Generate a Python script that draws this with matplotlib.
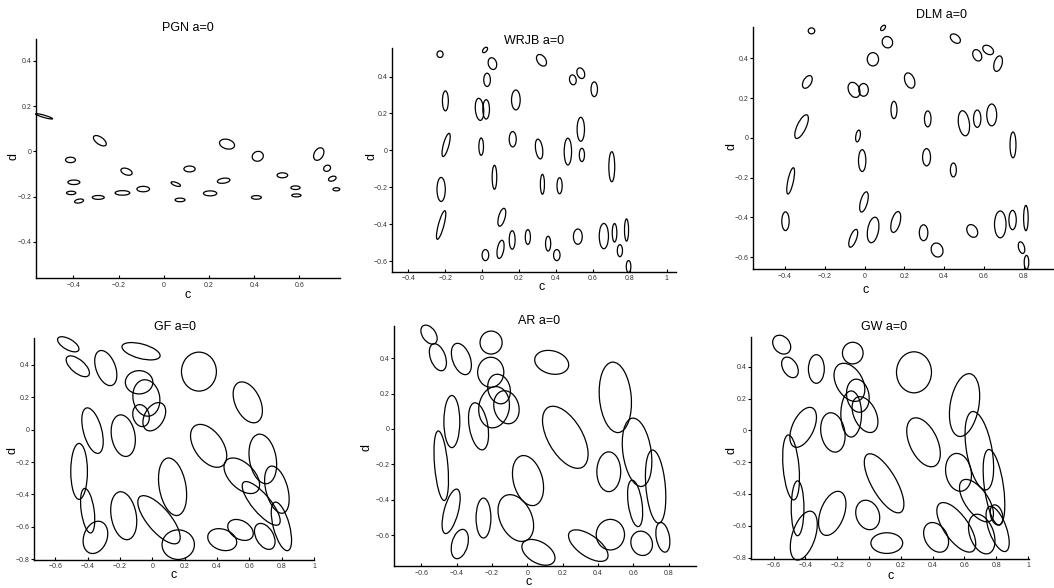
import matplotlib
matplotlib.use("Agg")
import matplotlib.pyplot as plt
from matplotlib.patches import Ellipse
import numpy as np

plt.rcParams['font.family'] = ['Liberation Sans', 'DejaVu Sans']

# ---------------- data: ellipse centres (cx, cy), widths, heights, angles ----------------
pgn_cx = [-0.53, -0.283, -0.413, -0.398, -0.41, -0.375, -0.29, -0.183, -0.165, -0.091, 0.053, 0.072, 0.114,
          0.205, 0.265, 0.28, 0.416, 0.41, 0.525, 0.583, 0.587, 0.686, 0.723, 0.746, 0.764]
pgn_cy = [0.155, 0.047, -0.038, -0.137, -0.184, -0.22, -0.204, -0.184, -0.09, -0.167, -0.145, -0.215, -0.078,
          -0.186, -0.13, 0.032, -0.022, -0.204, -0.106, -0.161, -0.195, -0.012, -0.075, -0.121, -0.168]
pgn_w = [0.078, 0.066, 0.044, 0.053, 0.041, 0.04, 0.053, 0.065, 0.052, 0.056, 0.044, 0.044, 0.05,
         0.059, 0.056, 0.068, 0.05, 0.044, 0.047, 0.041, 0.041, 0.06, 0.032, 0.035, 0.03]
pgn_h = [0.01, 0.032, 0.024, 0.02, 0.015, 0.017, 0.017, 0.02, 0.028, 0.024, 0.015, 0.016, 0.026,
         0.022, 0.022, 0.042, 0.043, 0.016, 0.022, 0.016, 0.013, 0.04, 0.026, 0.02, 0.014]
pgn_ang = [-16, -35, 0, 0, 0, 10, 0, 0, -20, 0, -20, 0, 0, 0, 8, -15, 20, 0, 0, 0, 0, 60, 30, 20, 0]

wrjb_cx = [-0.228, 0.016, 0.056, 0.322, 0.027, 0.492, 0.535, 0.608, -0.199, -0.014, 0.022, 0.183, 0.535,
           -0.195, -0.005, 0.166, 0.309, 0.465, 0.541, 0.703, 0.067, -0.222, 0.327, 0.42, -0.222, 0.107,
           0.163, 0.248, 0.1, 0.018, 0.358, 0.405, 0.519, 0.66, 0.718, 0.783, 0.747, 0.794]
wrjb_cy = [0.521, 0.544, 0.47, 0.488, 0.382, 0.382, 0.418, 0.331, 0.268, 0.222, 0.222, 0.273, 0.114,
           0.029, 0.02, 0.06, 0.007, -0.007, -0.025, -0.089, -0.146, -0.212, -0.184, -0.192, -0.405, -0.363,
           -0.486, -0.47, -0.537, -0.568, -0.506, -0.568, -0.468, -0.465, -0.447, -0.432, -0.544, -0.63]
wrjb_w = [0.033, 0.02, 0.045, 0.045, 0.036, 0.036, 0.04, 0.035, 0.032, 0.045, 0.036, 0.047, 0.04,
          0.03, 0.025, 0.038, 0.038, 0.04, 0.028, 0.032, 0.025, 0.045, 0.022, 0.028, 0.03, 0.035,
          0.032, 0.028, 0.035, 0.036, 0.028, 0.035, 0.048, 0.05, 0.025, 0.022, 0.028, 0.025]
wrjb_h = [0.036, 0.035, 0.065, 0.07, 0.072, 0.054, 0.06, 0.08, 0.108, 0.12, 0.105, 0.108, 0.13,
          0.13, 0.094, 0.083, 0.108, 0.145, 0.072, 0.163, 0.13, 0.13, 0.108, 0.087, 0.16, 0.1,
          0.1, 0.08, 0.1, 0.06, 0.08, 0.06, 0.083, 0.137, 0.1, 0.12, 0.065, 0.065]
wrjb_ang = [0, -40, 15, 35, 0, 10, 20, 0, 0, 5, 0, 0, 0, -15, 0, 0, 8, 0, 0, 0, 0, 0, 0, 0, -15, -15,
            0, 0, -10, 0, 0, 0, 0, 0, 0, 0, 0, 0]

dlm_cx = [-0.267, 0.093, 0.115, 0.042, 0.457, 0.567, 0.622, 0.672, -0.288, -0.053, -0.005, 0.227, 0.148,
          0.318, 0.5, 0.567, 0.64, -0.317, -0.033, 0.747, -0.012, 0.312, 0.447, -0.372, -0.003, -0.398,
          -0.057, 0.043, 0.157, 0.297, 0.365, 0.542, 0.683, 0.745, 0.812, 0.79, 0.815]
dlm_cy = [0.539, 0.554, 0.482, 0.396, 0.5, 0.416, 0.443, 0.374, 0.282, 0.242, 0.242, 0.289, 0.141,
          0.096, 0.074, 0.097, 0.116, 0.057, 0.01, -0.035, -0.114, -0.097, -0.161, -0.216, -0.322, -0.419,
          -0.505, -0.463, -0.423, -0.477, -0.564, -0.468, -0.435, -0.413, -0.403, -0.552, -0.626]
dlm_w = [0.033, 0.018, 0.052, 0.057, 0.038, 0.042, 0.04, 0.04, 0.04, 0.055, 0.048, 0.048, 0.03,
         0.033, 0.055, 0.037, 0.05, 0.045, 0.022, 0.03, 0.037, 0.04, 0.03, 0.028, 0.035, 0.037,
         0.033, 0.055, 0.043, 0.043, 0.058, 0.05, 0.058, 0.037, 0.023, 0.03, 0.023]
dlm_h = [0.03, 0.032, 0.058, 0.067, 0.058, 0.06, 0.06, 0.08, 0.07, 0.08, 0.064, 0.08, 0.087,
         0.08, 0.127, 0.087, 0.11, 0.13, 0.06, 0.13, 0.11, 0.087, 0.07, 0.135, 0.105, 0.094,
         0.095, 0.13, 0.108, 0.08, 0.072, 0.068, 0.135, 0.097, 0.127, 0.06, 0.07]
dlm_ang = [0, -40, 20, 0, 50, 25, 55, -15, -30, 25, 0, 20, 0, 0, 8, 0, 0, -25, -10, 0, 0, 0, 0, -12,
           -15, 0, -20, -10, -15, 0, 20, 30, 0, 0, 0, 15, 0]

gf_cx = [-0.52, -0.461, -0.288, -0.07, 0.288, -0.082, -0.037, -0.07, 0.012, 0.59, -0.37, -0.18, 0.348,
         0.683, -0.453, 0.125, 0.553, 0.77, 0.673, -0.4, -0.177, 0.041, -0.352, 0.16, 0.432, 0.545,
         0.695, 0.798]
gf_cy = [0.528, 0.392, 0.381, 0.485, 0.359, 0.293, 0.196, 0.087, 0.08, 0.169, -0.006, -0.037, -0.1,
         -0.181, -0.258, -0.353, -0.285, -0.371, -0.456, -0.501, -0.532, -0.557, -0.666, -0.711, -0.68,
         -0.62, -0.66, -0.598]
gf_w = [0.148, 0.175, 0.12, 0.243, 0.216, 0.17, 0.165, 0.1, 0.12, 0.155, 0.113, 0.145, 0.175,
        0.165, 0.103, 0.165, 0.155, 0.135, 0.113, 0.08, 0.155, 0.144, 0.144, 0.2, 0.185, 0.17,
        0.107, 0.1]
gf_h = [0.066, 0.082, 0.227, 0.09, 0.241, 0.144, 0.227, 0.138, 0.19, 0.27, 0.29, 0.26, 0.3,
        0.31, 0.346, 0.36, 0.27, 0.3, 0.34, 0.278, 0.3, 0.37, 0.206, 0.183, 0.128, 0.113,
        0.175, 0.31]
gf_ang = [-30, -40, 20, -15, 0, 0, 10, 15, -30, 25, 15, 10, 35, 10, 0, 10, 45, 15, 40, 8, 10, 40,
          -20, 0, -20, -30, 30, 15]

ar_cx = [-0.556, -0.506, -0.373, -0.205, 0.138, -0.207, -0.16, -0.188, -0.118, -0.427, -0.276, 0.498,
         0.215, 0.621, -0.487, 0.461, 0.004, 0.726, 0.61, -0.431, -0.248, -0.065, -0.382, 0.063, 0.345,
         0.47, 0.647, 0.767]
ar_cy = [0.534, 0.406, 0.396, 0.489, 0.377, 0.321, 0.226, 0.123, 0.123, 0.042, 0.015, 0.179,
         -0.047, -0.132, -0.208, -0.242, -0.292, -0.326, -0.421, -0.466, -0.504, -0.504, -0.651, -0.698,
         -0.66, -0.598, -0.647, -0.613]
ar_w = [0.075, 0.085, 0.1, 0.125, 0.196, 0.148, 0.125, 0.172, 0.14, 0.09, 0.105, 0.18,
        0.195, 0.16, 0.075, 0.135, 0.165, 0.11, 0.078, 0.08, 0.084, 0.18, 0.09, 0.205,
        0.26, 0.16, 0.12, 0.075]
ar_h = [0.12, 0.16, 0.185, 0.13, 0.13, 0.17, 0.17, 0.235, 0.19, 0.295, 0.27, 0.4,
        0.39, 0.39, 0.395, 0.225, 0.29, 0.415, 0.265, 0.26, 0.226, 0.28, 0.17, 0.12,
        0.12, 0.173, 0.14, 0.17]
ar_ang = [35, 20, 20, 0, -15, 0, 15, -10, 15, 0, 10, 5, 30, 8, 5, 0, 15, 5, 8, -15, 0, 25, -15, -30,
          -35, 0, 20, 10]

gw_cx = [-0.549, -0.497, -0.331, -0.102, 0.283, -0.123, -0.07, -0.112, -0.025, 0.601, -0.414, -0.227,
         0.343, 0.694, -0.49, 0.563, 0.095, 0.786, 0.676, -0.449, -0.231, -0.008, -0.41, 0.112, 0.422,
         0.549, 0.709, 0.802, 0.809]
gw_cy = [0.539, 0.396, 0.386, 0.486, 0.365, 0.302, 0.218, 0.103, 0.099, 0.159, 0.019, -0.013,
         -0.075, -0.128, -0.233, -0.264, -0.333, -0.358, -0.442, -0.49, -0.522, -0.532, -0.662, -0.709,
         -0.673, -0.61, -0.652, -0.532, -0.62]
gw_w = [0.1, 0.09, 0.1, 0.13, 0.22, 0.166, 0.14, 0.13, 0.14, 0.18, 0.135, 0.15,
        0.175, 0.16, 0.1, 0.16, 0.155, 0.12, 0.145, 0.08, 0.15, 0.145, 0.145, 0.2, 0.14,
        0.155, 0.15, 0.075, 0.11]
gw_h = [0.13, 0.14, 0.18, 0.136, 0.258, 0.26, 0.21, 0.29, 0.24, 0.4, 0.27, 0.25,
        0.33, 0.5, 0.41, 0.24, 0.42, 0.48, 0.31, 0.345, 0.29, 0.19, 0.32, 0.13, 0.2,
        0.365, 0.26, 0.13, 0.3]
gw_ang = [40, 30, 0, 0, 0, 30, 10, 0, 25, -10, -25, 10, 25, 10, 5, 10, 30, 8, 35, 0, -20, 20, -18, 0,
          30, 35, 20, 15, 20]

titles = ["PGN a=0", "WRJB a=0", "DLM a=0", "GF a=0", "AR a=0", "GW a=0"]
x_label = "c"
y_label = "d"

# ---------------- layout (pixels) ----------------
W, H = 1054, 588
fig = plt.figure(figsize=(W / 100, H / 100), dpi=100)

panels = [
    # (cx, cy, w, h, ang, xlim, ylim, left_px, top_px, bottom_px, title_xy, c_xy, d_xy)
    (pgn_cx, pgn_cy, pgn_w, pgn_h, pgn_ang, (-0.567, 0.782), (-0.562, 0.496), 35.7, 39.3, 278.3,
     (187.7, 28), (187.7, 295), (13.3, 156)),
    (wrjb_cx, wrjb_cy, wrjb_w, wrjb_h, wrjb_ang, (-0.49, 1.049), (-0.658, 0.553), 391.7, 48.3, 271.7,
     (533.7, 40.5), (542, 287), (371.7, 156)),
    (dlm_cx, dlm_cy, dlm_w, dlm_h, dlm_ang, (-0.563, 0.99), (-0.661, 0.56), 752.7, 26.7, 269.3,
     (941.3, 15), (865.3, 290), (731.3, 147)),
    (gf_cx, gf_cy, gf_w, gf_h, gf_ang, (-0.73, 1.002), (-0.804, 0.565), 34.3, 338.3, 559.7,
     (175, 327.3), (173.3, 575.5), (12.7, 450.7)),
    (ar_cx, ar_cy, ar_w, ar_h, ar_ang, (-0.756, 0.955), (-0.777, 0.581), 393.7, 326.3, 566.3,
     (539.3, 320.7), (528.7, 582), (367, 447.3)),
    (gw_cx, gw_cy, gw_w, gw_h, gw_ang, (-0.742, 1.004), (-0.809, 0.589), 751, 336.7, 559,
     (883.7, 327.3), (890.7, 576), (731.3, 450.7)),
]


def fmt(v, pos=None):
    v = round(v, 2)
    if abs(v) < 1e-9:
        return "0"
    return ("%g" % v).replace("-", "\u2212")


for i, (cx, cy, ew, eh, ea, xl, yl, lp, tp, bp, txy, cxy, dxy) in enumerate(panels):
    scale = (bp - tp) / (yl[1] - yl[0])
    wp = (xl[1] - xl[0]) * scale
    ax = fig.add_axes([lp / W, 1 - bp / H, wp / W, (bp - tp) / H])
    ax.set_xlim(*xl)
    ax.set_ylim(*yl)
    for x0, y0, a, b, t in zip(cx, cy, ew, eh, ea):
        ax.add_patch(Ellipse((x0, y0), a, b, angle=t, fill=False, edgecolor='black',
                             linewidth=0.9, clip_on=False))
    ax.spines['top'].set_visible(False)
    ax.spines['right'].set_visible(False)
    ax.spines['left'].set_linewidth(1.0)
    ax.spines['bottom'].set_linewidth(1.0)
    xt = np.round(np.arange(-1.0, 1.21, 0.2), 2)
    ax.set_xticks([v for v in xt if xl[0] <= v <= xl[1]])
    ax.set_yticks([v for v in xt if yl[0] <= v <= yl[1]])
    ax.xaxis.set_major_formatter(plt.FuncFormatter(fmt))
    ax.yaxis.set_major_formatter(plt.FuncFormatter(fmt))
    ax.tick_params(axis='x', direction='in', length=2.5, width=0.8, labelsize=5, pad=2.5, colors='black',
                   labelcolor='#333333')
    ax.tick_params(axis='y', direction='out', length=2, width=0.8, labelsize=5, pad=1.2, colors='black',
                   labelcolor='#333333')
    ax.set_facecolor('none')
    fig.text(txy[0] / W, 1 - txy[1] / H, titles[i], ha='center', va='center', fontsize=9)
    fig.text(cxy[0] / W, 1 - cxy[1] / H, x_label, ha='center', va='center', fontsize=9)
    fig.text(dxy[0] / W, 1 - dxy[1] / H, y_label, ha='center', va='center', fontsize=9, rotation=90)

fig.savefig("out.png", dpi=100)
